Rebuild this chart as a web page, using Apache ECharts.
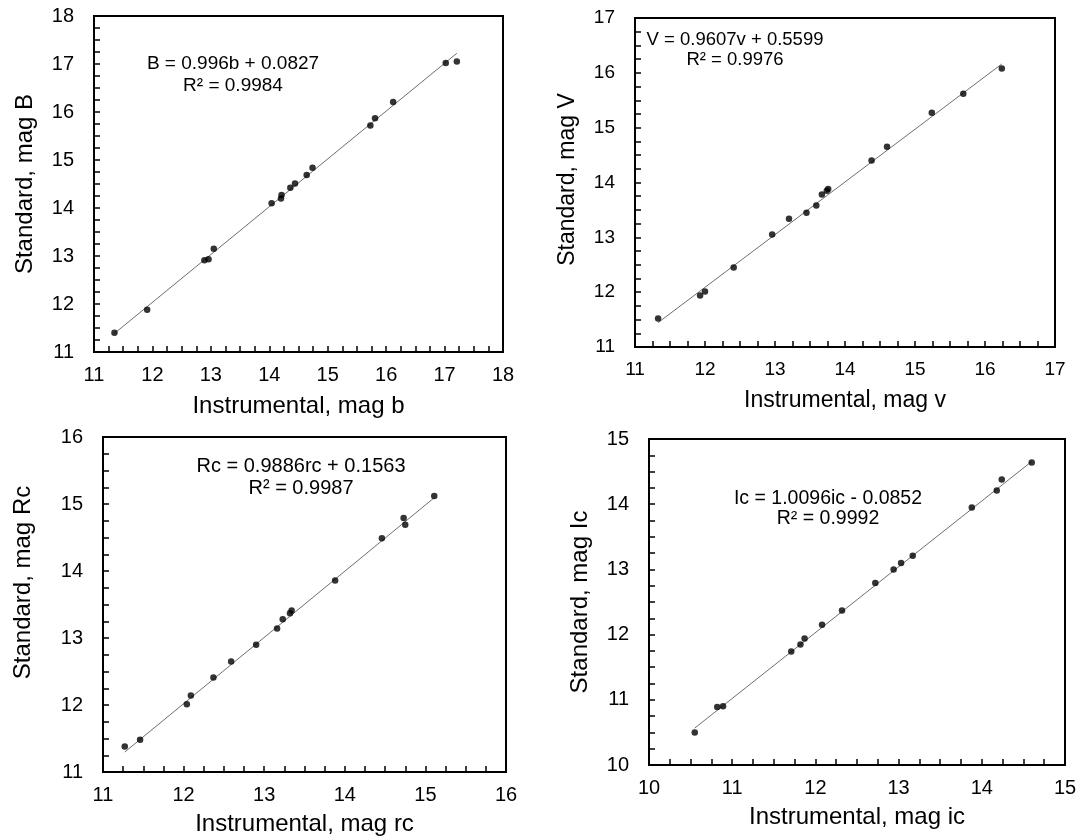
<!DOCTYPE html>
<html>
<head>
<meta charset="utf-8">
<script src="https://cdn.jsdelivr.net/npm/echarts@6/dist/echarts.min.js"></script>
<style>
  html, body { margin: 0; padding: 0; background: #fff; }
  #chart { width: 1080px; height: 837px; }
</style>
</head>
<body>
<div id="chart"></div>
<script>
// Calibration of instrumental magnitudes against standard magnitudes, four bands.

// B band
const bInstr = [11.35, 11.91, 12.89, 12.96, 13.05, 14.04, 14.20, 14.21, 14.36, 14.44, 14.64, 14.74, 15.73, 15.81, 16.12, 17.02, 17.21];
const bStd   = [11.40, 11.88, 12.91, 12.93, 13.15, 14.10, 14.20, 14.27, 14.42, 14.51, 14.69, 14.84, 15.72, 15.87, 16.21, 17.02, 17.05];

// V band
const vInstr = [11.33, 11.93, 12.00, 12.41, 12.96, 13.20, 13.45, 13.59, 13.67, 13.74, 13.76, 14.38, 14.60, 15.24, 15.69, 16.24];
const vStd   = [11.52, 11.94, 12.01, 12.45, 13.05, 13.34, 13.45, 13.58, 13.78, 13.85, 13.88, 14.40, 14.65, 15.27, 15.62, 16.08];

// Rc band
const rInstr = [11.27, 11.46, 12.04, 12.09, 12.37, 12.59, 12.90, 13.16, 13.23, 13.32, 13.34, 13.88, 14.46, 14.73, 14.75, 15.11];
const rStd   = [11.38, 11.48, 12.01, 12.14, 12.41, 12.65, 12.90, 13.14, 13.28, 13.37, 13.41, 13.86, 14.49, 14.79, 14.69, 15.12];

// Ic band
const iInstr = [10.55, 10.82, 10.89, 11.71, 11.82, 11.87, 12.08, 12.32, 12.72, 12.94, 13.03, 13.17, 13.88, 14.18, 14.24, 14.60];
const iStd   = [10.50, 10.89, 10.90, 11.74, 11.85, 11.94, 12.15, 12.37, 12.79, 13.00, 13.10, 13.21, 13.95, 14.21, 14.38, 14.64];

// Linear fits (standard = slope * instrumental + intercept)
const fitSlope     = [0.996, 0.9607, 0.9886, 1.0096];
const fitIntercept = [0.0827, 0.5599, 0.1563, -0.0852];
const fitEquation  = ['B = 0.996b + 0.0827', 'V = 0.9607v + 0.5599', 'Rc = 0.9886rc + 0.1563', 'Ic = 1.0096ic - 0.0852'];
const fitR2        = ['0.9984', '0.9976', '0.9987', '0.9992'];

// Axis ranges and titles
const xRanges = [[11, 18], [11, 17], [11, 16], [10, 15]];
const yRanges = [[11, 18], [11, 17], [11, 16], [10, 15]];
const xTitles = ['Instrumental, mag b', 'Instrumental, mag v', 'Instrumental, mag rc', 'Instrumental, mag ic'];
const yTitles = ['Standard, mag B', 'Standard, mag V', 'Standard, mag Rc', 'Standard, mag Ic'];

const instr = [bInstr, vInstr, rInstr, iInstr];
const std = [bStd, vStd, rStd, iStd];

const FONT = '"Liberation Sans", Arial, sans-serif';

// panel layout
const grids = [
  { left: 94,  top: 16,  width: 409, height: 336 },
  { left: 635, top: 18,  width: 420, height: 329 },
  { left: 103, top: 437, width: 403, height: 336 },
  { left: 649, top: 439, width: 416, height: 326 }
];
const tickFont   = [20, 19, 20, 20];
const titleFont  = [24, 23, 24, 24];
const yNameGap   = [57, 56, 68, 57];
const xNameGap   = [42, 42, 40, 40];
// shifts the vertical title along its axis (positive = upward)
const yNameShift = [0, 6, 44, 0];
const eqFont     = [19, 18.5, 20, 19.5];
const eqLine     = [22, 20, 22, 20];
const eqPos      = [[233, 75], [735, 50], [301, 477], [828, 509]];

function axisCommon(i, range, title, isY) {
  const axis = {
    type: 'value',
    gridIndex: i,
    min: range[0],
    max: range[1],
    interval: 1,
    splitLine: { show: false },
    minorSplitLine: { show: false },
    axisLine: { show: true, onZero: false, lineStyle: { color: '#000', width: 2 } },
    axisTick: { show: true, inside: true, length: 6, lineStyle: { color: '#000', width: 1.5 } },
    minorTick: { show: true, splitNumber: 4, length: 6, lineStyle: { color: '#000', width: 1.5 } },
    axisLabel: { fontSize: tickFont[i], color: '#000', fontFamily: FONT, margin: isY ? 20 : 13 },
    name: title,
    nameLocation: 'middle',
    nameGap: isY ? yNameGap[i] : xNameGap[i],
    nameTextStyle: { fontSize: titleFont[i], color: '#000', fontFamily: FONT }
  };
  if (isY && yNameShift[i]) {
    axis.nameTextStyle.padding = [0, 0, 0, yNameShift[i]];
  }
  return axis;
}

const series = [];
for (let i = 0; i < 4; i++) {
  const xs = instr[i];
  const x0 = Math.min(...xs);
  const x1 = Math.max(...xs);
  series.push({
    type: 'line',
    xAxisIndex: i,
    yAxisIndex: i,
    data: [[x0, fitSlope[i] * x0 + fitIntercept[i]], [x1, fitSlope[i] * x1 + fitIntercept[i]]],
    symbol: 'none',
    lineStyle: { color: '#6e6e6e', width: 1 },
    silent: true,
    z: 2
  });
  series.push({
    type: 'scatter',
    xAxisIndex: i,
    yAxisIndex: i,
    data: xs.map((x, k) => [x, std[i][k]]),
    symbol: 'circle',
    symbolSize: 6.5,
    itemStyle: { color: '#000' },
    z: 3
  });
}

const graphic = fitEquation.map((eq, i) => ({
  type: 'text',
  x: eqPos[i][0],
  y: eqPos[i][1],
  z: 10,
  style: {
    text: eq + '\nR² = ' + fitR2[i],
    fontSize: eqFont[i],
    fontFamily: FONT,
    fill: '#000',
    lineHeight: eqLine[i],
    textAlign: 'center',
    textVerticalAlign: 'middle'
  }
}));

const chart = echarts.init(document.getElementById('chart'), null, { renderer: 'canvas' });
chart.setOption({
  animation: false,
  backgroundColor: '#fff',
  grid: grids.map(g => Object.assign({ show: true, borderColor: '#000', borderWidth: 2, backgroundColor: 'transparent', containLabel: false }, g)),
  xAxis: xRanges.map((r, i) => axisCommon(i, r, xTitles[i], false)),
  yAxis: yRanges.map((r, i) => axisCommon(i, r, yTitles[i], true)),
  series: series,
  graphic: graphic
});
</script>
</body>
</html>
